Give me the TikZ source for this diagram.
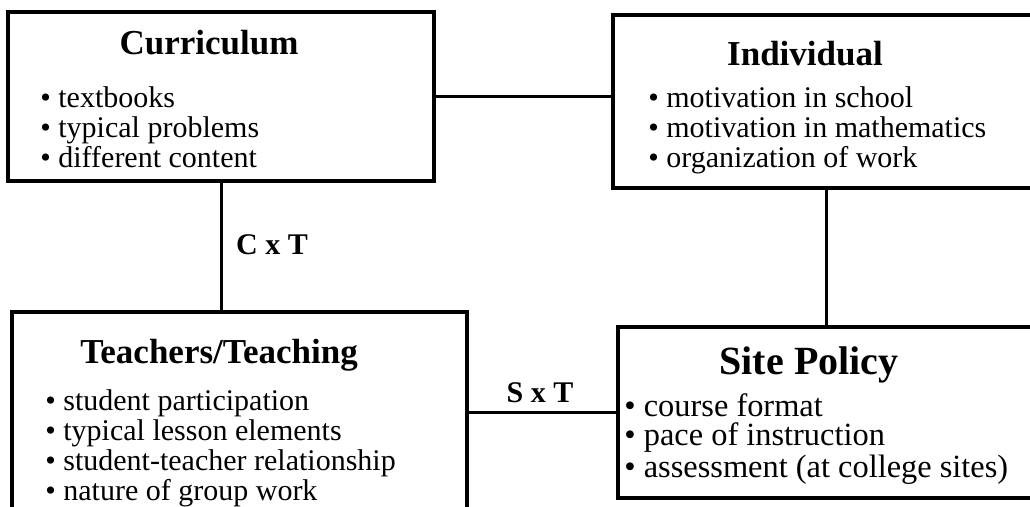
\documentclass[tikz,border=0pt]{standalone}
\usepackage{fontspec}
\setmainfont{Liberation Serif}

\begin{document}
\begin{tikzpicture}[x=0.5pt, y=-0.5pt,
        caja/.style={draw, line width=1.6pt, inner sep=0pt},
        titulo/.style={font=\fontsize{17.5}{20}\selectfont\bfseries},
        lista/.style={font=\fontsize{15}{15}\selectfont, align=left, anchor=west, inner sep=0pt},
        enlace/.style={line width=1.5pt},
        etiqueta/.style={font=\fontsize{15}{18}\selectfont\bfseries}]
        \useasboundingbox (0,0) rectangle (1030,507);
        \clip (0,0) rectangle (1030,507);

        % Cajas
        \node[caja, minimum width=213pt, minimum height=84.5pt] (curriculum) at (221,96.5) {};
        \node[caja, minimum width=213.5pt, minimum height=86.5pt] (individual) at (826.5,101.5) {};
        \node[caja, minimum width=227.5pt, minimum height=104pt] (teachers) at (239.5,416) {};
        \node[caja, minimum width=211pt, minimum height=85.5pt] (site) at (829,412.5) {};

        % Titulos
        \node[titulo] (curTitle) at (209,43) {Curriculum};
        \node[titulo] (indTitle) at (805,54) {Individual};
        \node[titulo] (teaTitle) at (219,355) {Teachers/Teaching};
        \node[titulo, font=\fontsize{20}{22}\selectfont\bfseries] (siteTitle) at (809,365) {Site Policy};

        % Listas
        \node[lista] (curList) at (40,127) {• textbooks\\• typical problems\\• different content};
        \node[lista] (indList) at (648,130) {• motivation in school\\• motivation in mathematics\\• organization of work};
        \node[lista] (teaList) at (45,448) {• student participation\\• typical lesson elements\\• student-teacher relationship\\• nature of group work};
        \node[lista, font=\fontsize{16.2}{14.6}\selectfont] (siteList) at (624,439) {• course format\\• pace of instruction\\• assessment (at college sites)};

        % Conexiones
        \draw[enlace] (curriculum.east) -- (curriculum.east -| individual.west);
        \draw[enlace] (curriculum.south) -- (curriculum.south |- teachers.north);
        \draw[enlace] (individual.south) -- (individual.south |- site.north);
        \draw[enlace] (site.west) -- (site.west -| teachers.east);

        % Etiquetas
        \node[etiqueta] (cxt) at (272,245) {C x T};
        \node[etiqueta] (sxt) at (540,393) {S x T};
    \end{tikzpicture}
\end{document}
